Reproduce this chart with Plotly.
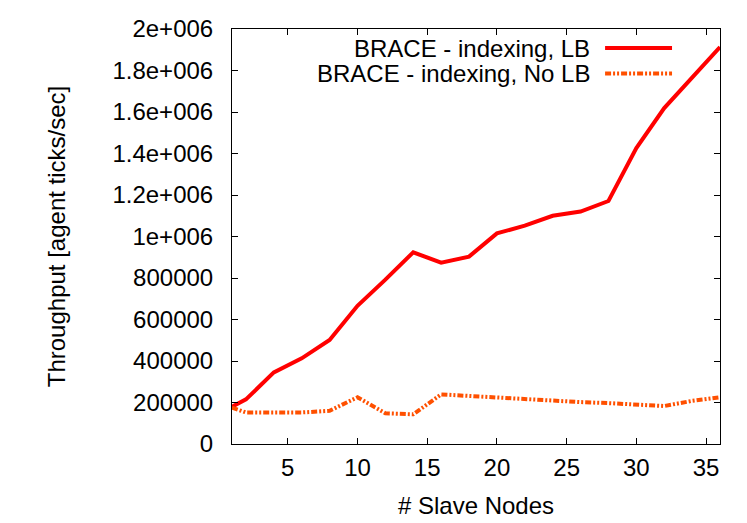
import plotly.graph_objects as go

nodes = [1, 2, 4, 6, 8, 10, 12, 14, 16, 18, 20, 22, 24, 26, 28, 30, 32, 34, 36]
lb = [180000, 215000, 345000, 413000, 501000, 666000, 792000, 924000, 874000, 903000,
      1015000, 1052000, 1100000, 1120000, 1171000, 1426000, 1619000, 1765000, 1913000]
no_lb = [175000, 152000, 152000, 152000, 160000, 225000, 148000, 143000, 239000, 231000,
         223000, 215000, 208000, 202000, 197000, 191000, 183000, 208000, 225000]

series_names = ["BRACE - indexing, LB", "BRACE - indexing, No LB"]
y_tickvals = [0, 200000, 400000, 600000, 800000, 1000000, 1200000, 1400000, 1600000, 1800000, 2000000]
y_ticktext = ["0", "200000", "400000", "600000", "800000", "1e+006", "1.2e+006",
              "1.4e+006", "1.6e+006", "1.8e+006", "2e+006"]
x_tickvals = [5, 10, 15, 20, 25, 30, 35]

RED = "#ff0000"
ORANGE = "#ff5000"
DASH = "6px,2px,2px,2px,2px,2px"
FONT = "Liberation Sans, Arial, sans-serif"

fig = go.Figure()
fig.add_trace(go.Scatter(x=nodes, y=lb, mode="lines", name=series_names[0],
                         line=dict(color=RED, width=4)))
fig.add_trace(go.Scatter(x=nodes, y=no_lb, mode="lines", name=series_names[1],
                         line=dict(color=ORANGE, width=4, dash=DASH)))

axis_common = dict(showline=True, linecolor="black", linewidth=1, mirror="allticks",
                   ticks="inside", ticklen=6, tickcolor="black", tickwidth=1,
                   showgrid=False, zeroline=False, automargin=False,
                   tickfont=dict(family=FONT, size=24, color="black"))

fig.update_layout(
    width=747, height=523, autosize=False,
    margin=dict(l=232, r=27, t=29, b=79, pad=0),
    plot_bgcolor="white", paper_bgcolor="white",
    showlegend=False,
    font=dict(family=FONT, size=24, color="black"),
    xaxis=dict(range=[1, 36], tickvals=x_tickvals, ticklabelstandoff=2,
               title=dict(text="# Slave Nodes", font=dict(family=FONT, size=24), standoff=17),
               **axis_common),
    yaxis=dict(range=[0, 2000000], tickvals=y_tickvals, ticktext=y_ticktext,
               ticklabelstandoff=13,
               title=dict(text="Throughput [agent ticks/sec]", font=dict(family=FONT, size=24), standoff=40),
               **axis_common),
)

# gnuplot-style legend: text right-aligned, line sample on the right
legend_rows = [(0.954, RED, None), (0.893, ORANGE, DASH)]
for name, (yp, col, dash) in zip(series_names, legend_rows):
    fig.add_annotation(x=0.7367, y=yp, xref="paper", yref="paper", text=name,
                       showarrow=False, xanchor="right", yanchor="middle",
                       font=dict(family=FONT, size=24, color="black"))
    fig.add_shape(type="line", xref="paper", yref="paper", x0=0.7645, x1=0.9017, y0=yp, y1=yp,
                  line=dict(color=col, width=4, dash=dash) if dash else dict(color=col, width=4))

fig.write_html("out.html", config={"displayModeBar": False},
               post_script="document.body.style.margin='0';document.body.style.padding='0';")
